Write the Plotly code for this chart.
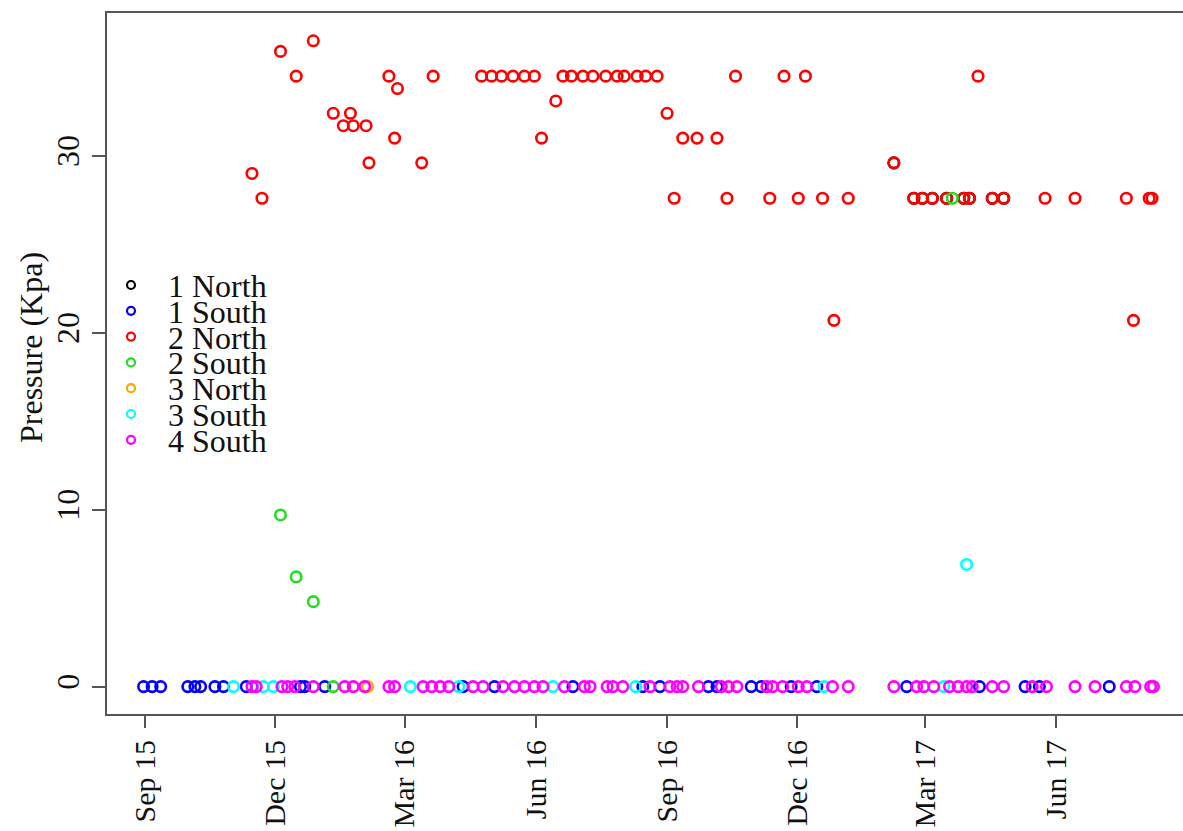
import plotly.graph_objects as go

# ---------------- data ----------------
series_names = ["1 North", "1 South", "2 North", "2 South", "3 North", "3 South", "4 South"]
series_colors = ["#000000", "#0000FF", "#FF0000", "#22DD22", "#FFA500", "#00FFFF", "#FF00FF"]

north1_dates = ["2017-02-07", "2017-02-21", "2017-02-27", "2017-03-06", "2017-03-16",
                "2017-03-28", "2017-04-01", "2017-04-17", "2017-04-25"]
north1_vals = [29.6, 27.6, 27.6, 27.6, 27.6, 27.6, 27.6, 27.6, 27.6]

south1_dates = ["2015-08-31", "2015-09-06", "2015-09-12", "2015-10-01", "2015-10-06", "2015-10-10",
                "2015-10-20", "2015-10-26", "2015-11-11", "2015-12-19", "2015-12-22", "2016-01-05",
                "2016-04-11", "2016-05-03", "2016-06-27", "2016-08-15", "2016-08-27", "2016-09-30",
                "2016-10-06", "2016-10-30", "2016-11-06", "2016-11-27", "2016-12-15", "2017-02-16",
                "2017-04-08", "2017-05-10", "2017-05-20", "2017-07-08"]
south1_vals = [0, 0, 0, 0, 0, 0, 0, 0, 0, 0, 0, 0, 0, 0, 0, 0, 0, 0, 0, 0, 0, 0, 0, 0, 0, 0, 0, 0]

north2_dates = ["2015-11-15", "2015-11-22", "2015-12-05", "2015-12-16", "2015-12-28",
                "2016-01-11", "2016-01-18", "2016-01-23", "2016-01-25", "2016-02-03", "2016-02-05",
                "2016-02-19", "2016-02-23", "2016-02-25", "2016-03-13", "2016-03-21",
                "2016-04-24", "2016-05-01", "2016-05-08", "2016-05-16", "2016-05-24", "2016-05-31",
                "2016-06-05", "2016-06-15", "2016-06-20", "2016-06-26", "2016-07-04", "2016-07-11",
                "2016-07-20", "2016-07-28", "2016-08-02", "2016-08-11", "2016-08-17", "2016-08-25",
                "2016-09-01", "2016-09-06", "2016-09-12", "2016-09-22", "2016-10-06", "2016-10-13",
                "2016-10-19", "2016-11-12", "2016-11-22", "2016-12-02", "2016-12-07", "2016-12-19",
                "2016-12-27", "2017-01-06", "2017-02-07", "2017-02-21", "2017-02-27", "2017-03-06",
                "2017-03-16", "2017-03-28", "2017-04-01", "2017-04-07", "2017-04-17", "2017-04-25",
                "2017-05-24", "2017-06-14", "2017-07-20", "2017-07-25", "2017-08-05", "2017-08-07"]
north2_vals = [29.0, 27.6, 35.9, 34.5, 36.5,
               32.4, 31.7, 32.4, 31.7, 31.7, 29.6,
               34.5, 31.0, 33.8, 29.6, 34.5,
               34.5, 34.5, 34.5, 34.5, 34.5, 34.5,
               31.0, 33.1, 34.5, 34.5, 34.5, 34.5,
               34.5, 34.5, 34.5, 34.5, 34.5, 34.5,
               32.4, 27.6, 31.0, 31.0, 31.0, 27.6,
               34.5, 27.6, 34.5, 27.6, 34.5, 27.6,
               20.7, 27.6, 29.6, 27.6, 27.6, 27.6,
               27.6, 27.6, 27.6, 34.5, 27.6, 27.6,
               27.6, 27.6, 27.6, 20.7, 27.6, 27.6]

south2_dates = ["2015-12-05", "2015-12-16", "2015-12-28", "2016-01-11", "2017-03-20"]
south2_vals = [9.7, 6.2, 4.8, 0, 27.6]

north3_dates = ["2016-02-04"]
north3_vals = [0]

south3_dates = ["2015-11-02", "2015-11-23", "2015-11-30", "2016-03-05", "2016-04-08", "2016-06-13",
                "2016-08-10", "2016-12-20", "2017-03-14", "2017-03-30"]
south3_vals = [0, 0, 0, 0, 0, 0, 0, 0, 0, 6.9]

south4_dates = ["2015-11-15", "2015-11-18", "2015-12-06", "2015-12-10", "2015-12-15", "2015-12-28",
                "2016-01-19", "2016-01-25", "2016-02-02", "2016-02-19", "2016-02-23", "2016-03-14",
                "2016-03-20", "2016-03-26", "2016-04-01", "2016-04-18", "2016-04-25", "2016-05-09",
                "2016-05-17", "2016-05-24", "2016-05-31", "2016-06-06", "2016-06-21", "2016-07-05",
                "2016-07-09", "2016-07-21", "2016-07-25", "2016-08-01", "2016-08-20", "2016-09-03",
                "2016-09-08", "2016-09-12", "2016-09-23", "2016-10-09", "2016-10-14", "2016-10-20",
                "2016-11-10", "2016-11-14", "2016-11-21", "2016-12-02", "2016-12-08", "2016-12-26",
                "2017-01-06", "2017-02-07", "2017-02-23", "2017-02-28", "2017-03-07", "2017-03-18",
                "2017-03-24", "2017-03-30", "2017-04-03", "2017-04-17", "2017-04-25", "2017-05-15",
                "2017-05-25", "2017-06-14", "2017-06-28", "2017-07-20", "2017-07-26", "2017-08-06",
                "2017-08-08"]
south4_vals = [0, 0, 0, 0, 0, 0, 0, 0, 0, 0, 0, 0, 0, 0, 0, 0, 0, 0, 0, 0, 0, 0, 0, 0, 0, 0, 0, 0, 0, 0,
               0, 0, 0, 0, 0, 0, 0, 0, 0, 0, 0, 0, 0, 0, 0, 0, 0, 0, 0, 0, 0, 0, 0, 0, 0, 0, 0, 0, 0, 0, 0]

tick_dates = ["2015-09-01", "2015-12-01", "2016-03-01", "2016-06-01",
              "2016-09-01", "2016-12-01", "2017-03-01", "2017-06-01"]
tick_labels = ["Sep 15", "Dec 15", "Mar 16", "Jun 16", "Sep 16", "Dec 16", "Mar 17", "Jun 17"]
y_ticks = [0, 10, 20, 30]
y_title = "Pressure (Kpa)"

# ---------------- figure ----------------
FONT = "Liberation Serif, Times New Roman, serif"
AXIS_COL = "#555555"
TXT_COL = "#111111"
FS = 32

all_dates = [north1_dates, south1_dates, north2_dates, south2_dates, north3_dates, south3_dates, south4_dates]
all_vals = [north1_vals, south1_vals, north2_vals, south2_vals, north3_vals, south3_vals, south4_vals]

fig = go.Figure()
for name, col, d, v in zip(series_names, series_colors, all_dates, all_vals):
    fig.add_trace(go.Scatter(
        x=d, y=v, mode="markers", name=name, showlegend=False,
        marker=dict(symbol="circle-open", size=10.5, color=col, line=dict(width=2.6)),
    ))

# legend drawn on an overlay pixel-space axis pair
leg_x_marker = 131
leg_x_text = 167
leg_y0 = 285
leg_step = 25.8
leg_rows = [leg_y0 + i * leg_step for i in range(len(series_names))]
fig.add_trace(go.Scatter(
    x=[leg_x_marker] * len(series_names), y=leg_rows, mode="markers",
    xaxis="x2", yaxis="y2", showlegend=False, hoverinfo="skip",
    marker=dict(symbol="circle-open", size=8, color=series_colors, line=dict(width=2.2)),
))
for name, yy in zip(series_names, leg_rows):
    fig.add_annotation(x=leg_x_text, y=yy + 1, xref="x2", yref="y2", text=name, showarrow=False,
                       xanchor="left", yanchor="middle", borderpad=0,
                       font=dict(family=FONT, size=FS, color=TXT_COL))

W, H = 1183, 831
ML, MR, MT, MB = 107, 0, 13, 117

fig.add_annotation(x=(31 - ML) / (W - ML - MR), y=(H - MB - 348) / (H - MT - MB),
                   xref="paper", yref="paper", text=y_title, textangle=-90,
                   showarrow=False, xanchor="center", yanchor="middle",
                   font=dict(family=FONT, size=FS, color=TXT_COL))

fig.update_layout(
    width=W, height=H,
    margin=dict(l=ML, r=MR, t=MT, b=MB, pad=0, autoexpand=False),
    paper_bgcolor="white", plot_bgcolor="white",
    font=dict(family=FONT, size=FS, color=TXT_COL),
    xaxis=dict(
        type="date", range=["2015-08-05 08:38", "2017-08-28 17:00"], automargin=False,
        tickvals=tick_dates, ticktext=tick_labels, tickangle=-90,
        ticks="outside", ticklen=12, tickwidth=1.5, tickcolor=AXIS_COL,
        showline=True, linecolor=AXIS_COL, linewidth=2, mirror=True,
        showgrid=False, zeroline=False, tickfont=dict(family=FONT, size=30, color=TXT_COL),
    ),
    yaxis=dict(
        range=[-1.55, 38.07], tickvals=y_ticks, tickangle=-90, automargin=False,
        ticks="outside", ticklen=13, tickwidth=1.5, tickcolor=AXIS_COL,
        showline=True, linecolor=AXIS_COL, linewidth=2, mirror=False,
        showgrid=False, zeroline=False, tickfont=dict(family=FONT, size=FS, color=TXT_COL),
    ),
    xaxis2=dict(overlaying="x", range=[ML, W - MR], visible=False, fixedrange=True),
    yaxis2=dict(overlaying="y", range=[H - MB, MT], visible=False, fixedrange=True),
)

fig.write_html("out.html")
